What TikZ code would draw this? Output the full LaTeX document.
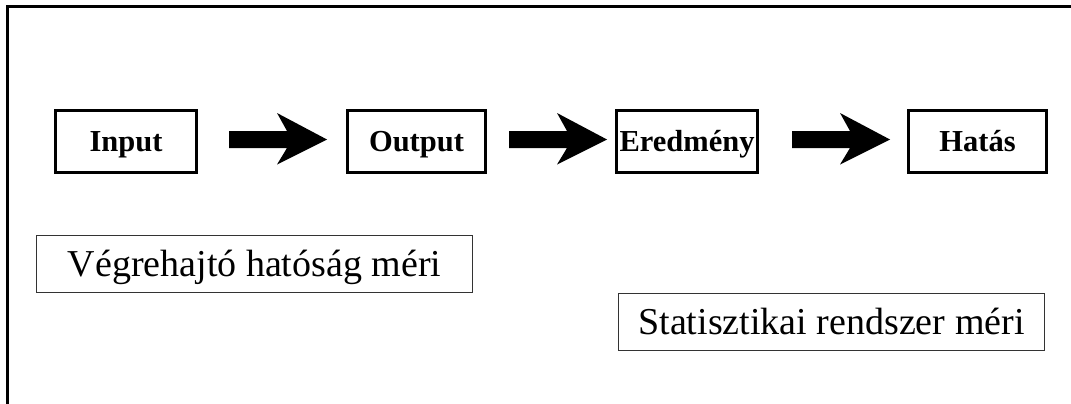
\documentclass[tikz,border=0pt]{standalone}
\usepackage{fontspec}
\setmainfont{Liberation Serif}
\usetikzlibrary{calc}
\begin{document}
\begin{tikzpicture}[x=1pt,y=-1pt,
  stagebox/.style={draw=black,line width=3pt,inner sep=0pt,minimum height=62pt,
    text height=20pt,text depth=0pt,font=\fontsize{30.5}{36}\selectfont\bfseries},
  notebox/.style={draw=black!80,line width=1.3pt,inner sep=0pt,minimum height=57pt,
    text height=24.5pt,text depth=0pt,font=\fontsize{38}{44}\selectfont},
  blockarr/.pic={\fill[black] (0,-8.5) -- (58,-8.5) -- (48,-26.5) -- (98,0) -- (48,25) -- (58,8.5) -- (0,8.5) -- cycle;}
]
\useasboundingbox (0,0) rectangle (1071,404);
% frame (top and left edges visible)
\draw[line width=3pt] (7,404) -- (7,7) -- (1071,7);

\node[stagebox,minimum width=141pt] (in)  at (126,141)   {Input};
\node[stagebox,minimum width=138pt] (out) at (416.5,141) {Output};
\node[stagebox,minimum width=141pt] (res) at (687,141)   {Eredmény};
\node[stagebox,minimum width=138pt] (eff) at (977.5,141) {Hatás};

\pic at ($(in.east)+(31,-1.5)$)  {blockarr};
\pic at ($(out.east)+(22,-1.5)$) {blockarr};
\pic at ($(res.east)+(33,-1.5)$) {blockarr};

\node[notebox,minimum width=436pt] (exec) at (254.5,264) {Végrehajtó hatóság méri};
\node[notebox,minimum width=426pt] (stat) at (831.5,322) {Statisztikai rendszer méri};
\end{tikzpicture}
\end{document}
